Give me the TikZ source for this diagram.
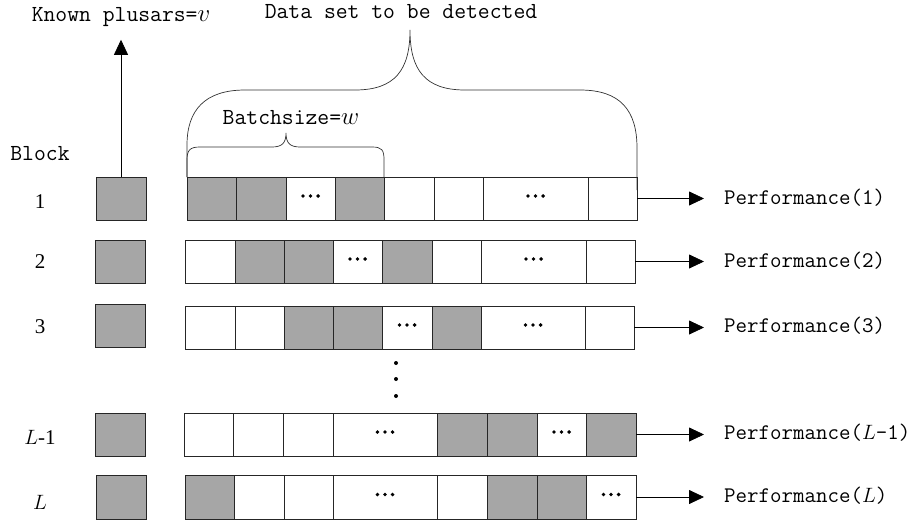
\documentclass[tikz,border=0pt]{standalone}
\usepackage{fontspec}
\newfontfamily\serf{Liberation Serif}
\usetikzlibrary{arrows.meta}
\definecolor{cellgray}{RGB}{166,166,166}
\begin{document}
\begin{tikzpicture}[x=1pt,y=-1pt,
  box/.style={draw=black!85, line width=0.8pt, inner sep=0pt, outer sep=0pt},
  lbl/.style={font=\ttfamily\fontsize{23}{23}\selectfont, inner sep=0pt},
  plbl/.style={font=\ttfamily\fontsize{22.3}{22}\selectfont, inner sep=0pt, anchor=west},
  num/.style={font=\serf\fontsize{21}{21}\selectfont, inner sep=0pt},
  arr/.style={-{Triangle[length=15pt,width=14pt]}, line width=0.8pt},
  brc/.style={line width=0.7pt, draw=black!80}]
\useasboundingbox (0,0) rectangle (915,525);

% data rows (x0/x1/fill/dots-flag)
\foreach \rn/\ya/\yb/\cl in {
  1/177/220/{187/236/cellgray/0,236/286/cellgray/0,286/335/white/1,335/384/cellgray/0,384/434/white/0,434/483/white/0,483/588/white/1,588/637/white/0},
  2/240/283/{185/235/white/0,235/284/cellgray/0,284/333/cellgray/0,333/382/white/1,382/432/cellgray/0,432/481/white/0,481/586/white/1,586/635/white/0},
  3/306/349/{185/235/white/0,235/284/white/0,284/333/cellgray/0,333/382/cellgray/0,382/432/white/1,432/481/cellgray/0,481/585/white/1,585/634/white/0},
  4/413/456/{184/233/white/0,233/283/white/0,283/333/white/0,333/437/white/1,437/487/cellgray/0,487/537/cellgray/0,537/586/white/1,586/636/cellgray/0},
  5/475/519/{185/234/cellgray/0,234/284/white/0,284/333/white/0,333/437/white/1,437/487/white/0,487/537/cellgray/0,537/586/cellgray/0,586/636/white/1}}{
  \foreach \xa/\xb/\fc/\fl [count=\i] in \cl {
    \pgfmathsetmacro\cw{\xb-\xa}
    \pgfmathsetmacro\xm{(\xa+\xb)/2}
    \pgfmathsetmacro\ch{\yb-\ya}
    \pgfmathsetmacro\ym{(\ya+\yb)/2}
    \node[box, fill=\fc, minimum width=\cw pt, minimum height=\ch pt] (r\rn c\i) at (\xm,\ym) {};
    \ifnum\fl=1
      \fill ([yshift=2.5pt]r\rn c\i.center) circle (1.9pt)
            ([xshift=-7.6pt,yshift=2.5pt]r\rn c\i.center) circle (1.9pt)
            ([xshift=7.6pt,yshift=2.5pt]r\rn c\i.center) circle (1.9pt);
    \fi
  }
}

% known pulsar squares
\node[box, fill=cellgray, minimum width=50pt, minimum height=43pt] (s1) at (121,198.5) {};
\node[box, fill=cellgray, minimum width=50pt, minimum height=43pt] (s2) at (120,261.5) {};
\node[box, fill=cellgray, minimum width=50pt, minimum height=43pt] (s3) at (120,325.5) {};
\node[box, fill=cellgray, minimum width=50pt, minimum height=43pt] (s4) at (120,434.5) {};
\node[box, fill=cellgray, minimum width=50pt, minimum height=44pt] (s5) at (121,497) {};

% block labels
\node[lbl] (blk) at (40,154) {Block};
\node[num] (b1) at (40,202) {1};
\node[num] (b2) at (40,262) {2};
\node[num] (b3) at (40,327) {3};
\node[num] (b4) at (40,437) {$L$-1};
\node[num] (b5) at (40,502) {$L$};

% top texts
\node[lbl] (kp) at (121,17) {Known plusars=$v$};
\node[lbl] (ds) at (401,12) {Data set to be detected};
\node[lbl] (bs) at (291,118) {Batchsize=$w$};

\draw[arr, shorten >=13pt] (s1.north) -- (kp.south);

% performance labels and arrows
\node[plbl] (p1) at (724,198) {Performance(1)};
\node[plbl] (p2) at (724,261) {Performance(2)};
\node[plbl] (p3) at (724,326) {Performance(3)};
\node[plbl] (p4) at (724,433) {Performance($L$-1)};
\node[plbl] (p5) at (724,496) {Performance($L$)};
\foreach \k in {1,...,5}{
  \draw[arr, shorten >=20pt] (r\k c8.east) -- (r\k c8.east -| p\k.west);
}

% vertical dots
\foreach \yy in {363,379,396}{ \fill (396,\yy) circle (2pt); }

% small brace
\draw[brc] (187,177) -- (187,160) .. controls (187,150) and (190,147) .. (200,147)
  -- (272,147) .. controls (282,147) and (286,143) .. (286,133)
  .. controls (286,143) and (290,147) .. (300,147) -- (372,147)
  .. controls (382,147) and (384,150) .. (384,160) -- (384,177);

% big brace
\draw[brc] (187,177) -- (187,145) .. controls (187,110) and (205,90) .. (245,90)
  -- (355,90) .. controls (395,90) and (410,70) .. (410,30)
  .. controls (410,70) and (425,90) .. (465,90) -- (580,90)
  .. controls (620,90) and (637,110) .. (637,148) -- (637,190);
\end{tikzpicture}
\end{document}
